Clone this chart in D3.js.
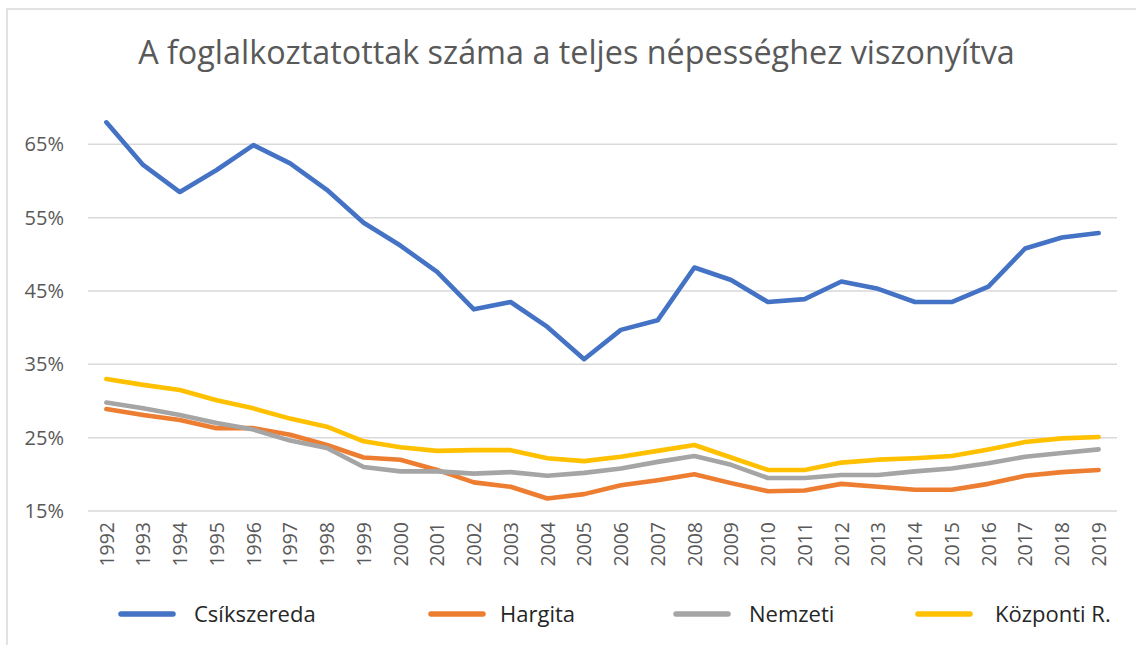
<!DOCTYPE html>
<html><head><meta charset="utf-8">
<script src="https://cdn.jsdelivr.net/npm/d3@7"></script>
<style>
html,body{margin:0;padding:0;background:#fff;}
svg{display:block;}
text{font-family:"Open Sans","DejaVu Sans",sans-serif;}
</style></head>
<body>
<svg id="c" width="1136" height="645"></svg>
<script>
const title = "A foglalkoztatottak száma a teljes népességhez viszonyítva";
const years = ["1992","1993","1994","1995","1996","1997","1998","1999","2000","2001","2002","2003","2004","2005","2006","2007","2008","2009","2010","2011","2012","2013","2014","2015","2016","2017","2018","2019"];
const seriesNames = ["Csíkszereda","Hargita","Nemzeti","Központi R."];
const csikszereda = [68.0,62.2,58.5,61.5,64.9,62.4,58.8,54.3,51.2,47.6,42.5,43.5,40.1,35.7,39.7,41.0,48.2,46.5,43.5,43.9,46.3,45.3,43.5,43.5,45.6,50.8,52.3,52.9];
const hargita = [28.9,28.1,27.4,26.3,26.3,25.4,24.0,22.3,22.0,20.6,18.9,18.3,16.7,17.3,18.5,19.2,20.0,18.8,17.7,17.8,18.7,18.3,17.9,17.9,18.7,19.8,20.3,20.6];
const nemzeti = [29.8,29.0,28.1,27.0,26.1,24.6,23.6,21.0,20.4,20.4,20.1,20.3,19.8,20.2,20.8,21.7,22.5,21.3,19.5,19.5,19.9,19.9,20.4,20.8,21.5,22.4,22.9,23.4];
const kozponti = [33.0,32.2,31.5,30.1,29.0,27.6,26.5,24.5,23.7,23.2,23.3,23.3,22.2,21.8,22.4,23.2,24.0,22.3,20.6,20.6,21.6,22.0,22.2,22.5,23.4,24.4,24.9,25.1];
const yTicks = [15,25,35,45,55,65];
const colors = ["#4472C4","#ED7D31","#A5A5A5","#FFC000"];

const svg = d3.select("#c");
const values = [csikszereda, hargita, nemzeti, kozponti];

// border
svg.append("rect").attr("x",7).attr("y",9).attr("width",1140).attr("height",645)
  .attr("fill","none").attr("stroke","#d9d9d9").attr("stroke-width",1.5);

const x = d3.scalePoint().domain(years).range([88,1117]).padding(0.5);
const y = d3.scaleLinear().domain([15,70]).range([511,107.7]);

// title
const t = svg.append("text").text(title).attr("x",576.5).attr("y",64)
  .attr("text-anchor","middle").attr("fill","#595959").style("font-size","30px");
const tl = t.node().getComputedTextLength();
t.style("font-size",(30*877/tl).toFixed(2)+"px");

// gridlines
svg.append("g").selectAll("line").data(yTicks).join("line")
  .attr("x1",88).attr("x2",1117).attr("y1",d=>y(d)).attr("y2",d=>y(d))
  .attr("stroke","#d9d9d9").attr("stroke-width",1.5);

// y axis labels
const yAxis = d3.axisLeft(y).tickValues(yTicks).tickFormat(d=>d+"%").tickSize(0).tickPadding(0);
const ga = svg.append("g").attr("transform","translate(64,0)").call(yAxis);
ga.select(".domain").remove();
ga.selectAll("text").attr("fill","#595959").style("font-size","20px")
  .style("font-family",'"Open Sans","DejaVu Sans",sans-serif');

// x axis labels
const xAxis = d3.axisBottom(x).tickSize(0).tickPadding(0);
const gx = svg.append("g").attr("transform","translate(0,522)").call(xAxis);
gx.select(".domain").remove();
gx.selectAll("text").attr("fill","#595959").style("font-size","19.5px")
  .style("font-family",'"Open Sans","DejaVu Sans",sans-serif')
  .attr("text-anchor","end").attr("y",0).attr("x",0).attr("dy","0.35em")
  .attr("transform","rotate(-90)");

// lines
const line = d3.line().x((d,i)=>x(years[i])).y(d=>y(d));
svg.append("g").selectAll("path").data(values).join("path")
  .attr("d",d=>line(d)).attr("fill","none")
  .attr("stroke",(d,i)=>colors[i]).attr("stroke-width",4.6)
  .attr("stroke-linejoin","round").attr("stroke-linecap","round");

// legend
const legX = [121,431,676,918];
const lg = svg.append("g").selectAll("g").data(seriesNames).join("g")
  .attr("transform",(d,i)=>`translate(${legX[i]},614)`);
lg.append("line").attr("x1",0).attr("x2",52).attr("y1",0).attr("y2",0)
  .attr("stroke",(d,i)=>colors[i]).attr("stroke-width",5.5).attr("stroke-linecap","round");
lg.append("text").text(d=>d).attr("x",(d,i)=>[73,69,73,77][i]).attr("y",8)
  .attr("fill","#262626").style("font-size","22px");
</script>
</body></html>
